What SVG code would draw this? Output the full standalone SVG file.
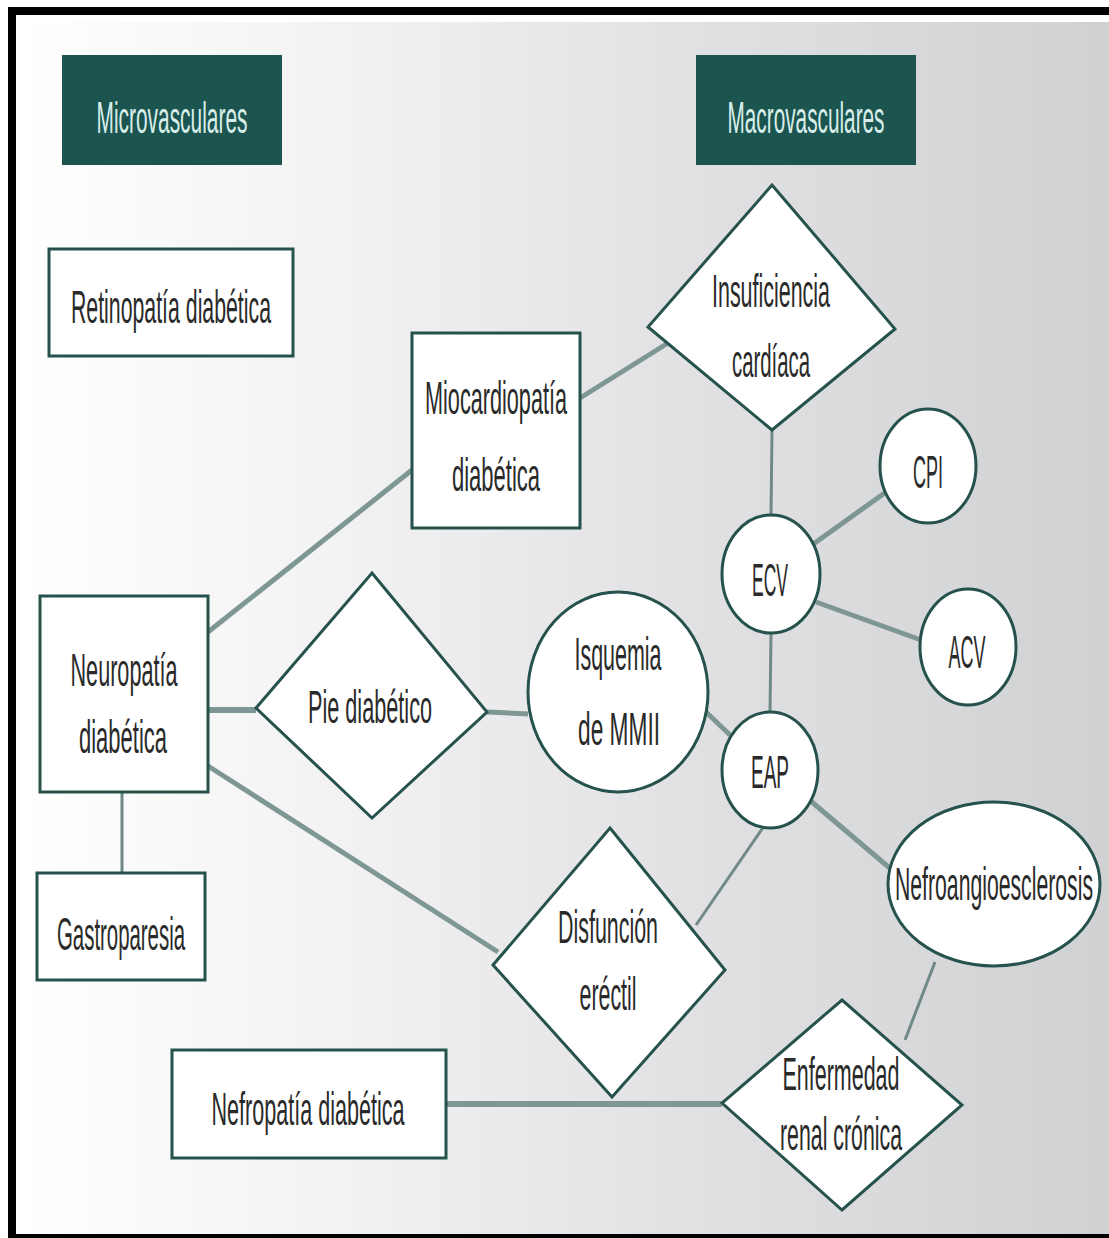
<svg xmlns="http://www.w3.org/2000/svg" width="1109" height="1238" viewBox="0 0 1109 1238">
<defs>
<linearGradient id="bg" x1="0" y1="0" x2="1" y2="0">
<stop offset="0" stop-color="#ffffff"/>
<stop offset="0.3" stop-color="#f2f2f3"/>
<stop offset="0.6" stop-color="#e2e2e4"/>
<stop offset="1" stop-color="#d0d1d3"/>
</linearGradient>
<style>
.hdr{fill:#1c5550}
.htx{fill:#d8eeea;font-family:"Liberation Sans",Arial,sans-serif;font-size:44px;text-anchor:middle}
.box{fill:#ffffff;stroke:#26524d;stroke-width:3}
.tx{fill:#2a2a2a;font-family:"Liberation Sans",Arial,sans-serif;font-size:46px;text-anchor:middle}
.thick{stroke:#7f9794;stroke-width:5;fill:none}
.thin{stroke:#6f8986;stroke-width:3;fill:none}
</style>
</defs>
<rect x="0" y="0" width="1109" height="1238" fill="#ffffff"/>
<rect x="16" y="22" width="1093" height="1212" fill="url(#bg)"/>
<rect x="8" y="7" width="1101" height="8" fill="#000"/>
<rect x="8" y="7" width="8" height="1231" fill="#000"/>
<rect x="8" y="1234" width="1101" height="4" fill="#000"/>

<g id="connectors">
<line class="thick" x1="208" y1="632" x2="412" y2="470"/>
<line class="thick" x1="580" y1="398" x2="668" y2="343"/>
<line class="thin" x1="772" y1="430" x2="771" y2="515"/>
<line class="thick" x1="812" y1="545" x2="886" y2="492"/>
<line class="thick" x1="816" y1="602" x2="921" y2="640"/>
<line class="thin" x1="771" y1="633" x2="770" y2="712"/>
<line class="thick" x1="208" y1="710" x2="256" y2="710" style="stroke-width:6"/>
<line class="thick" x1="487" y1="712" x2="528" y2="714"/>
<line class="thick" x1="706" y1="712" x2="730" y2="735"/>
<line class="thick" x1="208" y1="766" x2="498" y2="952"/>
<line class="thin" x1="696" y1="925" x2="782" y2="800"/>
<line class="thick" x1="806" y1="797" x2="892" y2="870"/>
<line class="thin" x1="122" y1="792" x2="122" y2="873"/>
<line class="thick" x1="446" y1="1104" x2="722" y2="1104" style="stroke-width:6"/>
<line class="thin" x1="905" y1="1040" x2="935" y2="962"/>
</g>

<g id="microvasculares">
<rect class="hdr" x="62" y="55" width="220" height="110"/>
<text class="htx" x="172" y="133" textLength="151" lengthAdjust="spacingAndGlyphs">Microvasculares</text>
</g>
<g id="macrovasculares">
<rect class="hdr" x="696" y="55" width="220" height="110"/>
<text class="htx" x="806" y="133" textLength="157" lengthAdjust="spacingAndGlyphs">Macrovasculares</text>
</g>

<g id="retinopatia">
<rect class="box" x="49" y="249" width="244" height="107"/>
<text class="tx" x="171" y="323" textLength="200" lengthAdjust="spacingAndGlyphs">Retinopatía diabética</text>
</g>
<g id="miocardiopatia">
<rect class="box" x="412" y="333" width="168" height="195"/>
<text class="tx" x="496" y="414" textLength="142" lengthAdjust="spacingAndGlyphs">Miocardiopatía</text>
<text class="tx" x="496" y="491" textLength="88" lengthAdjust="spacingAndGlyphs">diabética</text>
</g>
<g id="insuficiencia">
<polygon class="box" points="772,185 895,329 772,430 648,327"/>
<text class="tx" x="771" y="307" textLength="118" lengthAdjust="spacingAndGlyphs">Insuficiencia</text>
<text class="tx" x="771" y="377" textLength="78" lengthAdjust="spacingAndGlyphs">cardíaca</text>
</g>
<g id="cpi">
<ellipse class="box" cx="928" cy="466" rx="48" ry="57"/>
<text class="tx" x="928" y="488" textLength="30" lengthAdjust="spacingAndGlyphs">CPI</text>
</g>
<g id="ecv">
<ellipse class="box" cx="771" cy="574" rx="49" ry="59"/>
<text class="tx" x="770" y="596" textLength="36" lengthAdjust="spacingAndGlyphs">ECV</text>
</g>
<g id="acv">
<ellipse class="box" cx="968" cy="647" rx="48" ry="58"/>
<text class="tx" x="967" y="668" textLength="37" lengthAdjust="spacingAndGlyphs">ACV</text>
</g>
<g id="eap">
<ellipse class="box" cx="770" cy="770" rx="48" ry="58"/>
<text class="tx" x="770" y="788" textLength="38" lengthAdjust="spacingAndGlyphs">EAP</text>
</g>
<g id="isquemia">
<ellipse class="box" cx="618" cy="692" rx="90" ry="100"/>
<text class="tx" x="618" y="670" textLength="87" lengthAdjust="spacingAndGlyphs">Isquemia</text>
<text class="tx" x="619" y="745" textLength="82" lengthAdjust="spacingAndGlyphs">de MMII</text>
</g>
<g id="nefroangio">
<ellipse class="box" cx="994" cy="884" rx="106" ry="82"/>
<text class="tx" x="994" y="900" textLength="198" lengthAdjust="spacingAndGlyphs">Nefroangioesclerosis</text>
</g>
<g id="pie">
<polygon class="box" points="372,573 487,712 372,818 256,708"/>
<text class="tx" x="370" y="723" textLength="124" lengthAdjust="spacingAndGlyphs">Pie diabético</text>
</g>
<g id="neuropatia">
<rect class="box" x="40" y="596" width="168" height="196"/>
<text class="tx" x="124" y="686" textLength="107" lengthAdjust="spacingAndGlyphs">Neuropatía</text>
<text class="tx" x="123" y="753" textLength="88" lengthAdjust="spacingAndGlyphs">diabética</text>
</g>
<g id="gastroparesia">
<rect class="box" x="37" y="873" width="168" height="107"/>
<text class="tx" x="121" y="950" textLength="128" lengthAdjust="spacingAndGlyphs">Gastroparesia</text>
</g>
<g id="disfuncion">
<polygon class="box" points="610,828 725,970 612,1097 493,965"/>
<text class="tx" x="608" y="943" textLength="100" lengthAdjust="spacingAndGlyphs">Disfunción</text>
<text class="tx" x="608" y="1010" textLength="57" lengthAdjust="spacingAndGlyphs">eréctil</text>
</g>
<g id="enfermedad">
<polygon class="box" points="842,1000 962,1105 842,1210 722,1103"/>
<text class="tx" x="841" y="1090" textLength="117" lengthAdjust="spacingAndGlyphs">Enfermedad</text>
<text class="tx" x="841" y="1150" textLength="122" lengthAdjust="spacingAndGlyphs">renal crónica</text>
</g>
<g id="nefropatia">
<rect class="box" x="172" y="1050" width="274" height="108"/>
<text class="tx" x="308" y="1125" textLength="193" lengthAdjust="spacingAndGlyphs">Nefropatía diabética</text>
</g>
</svg>
